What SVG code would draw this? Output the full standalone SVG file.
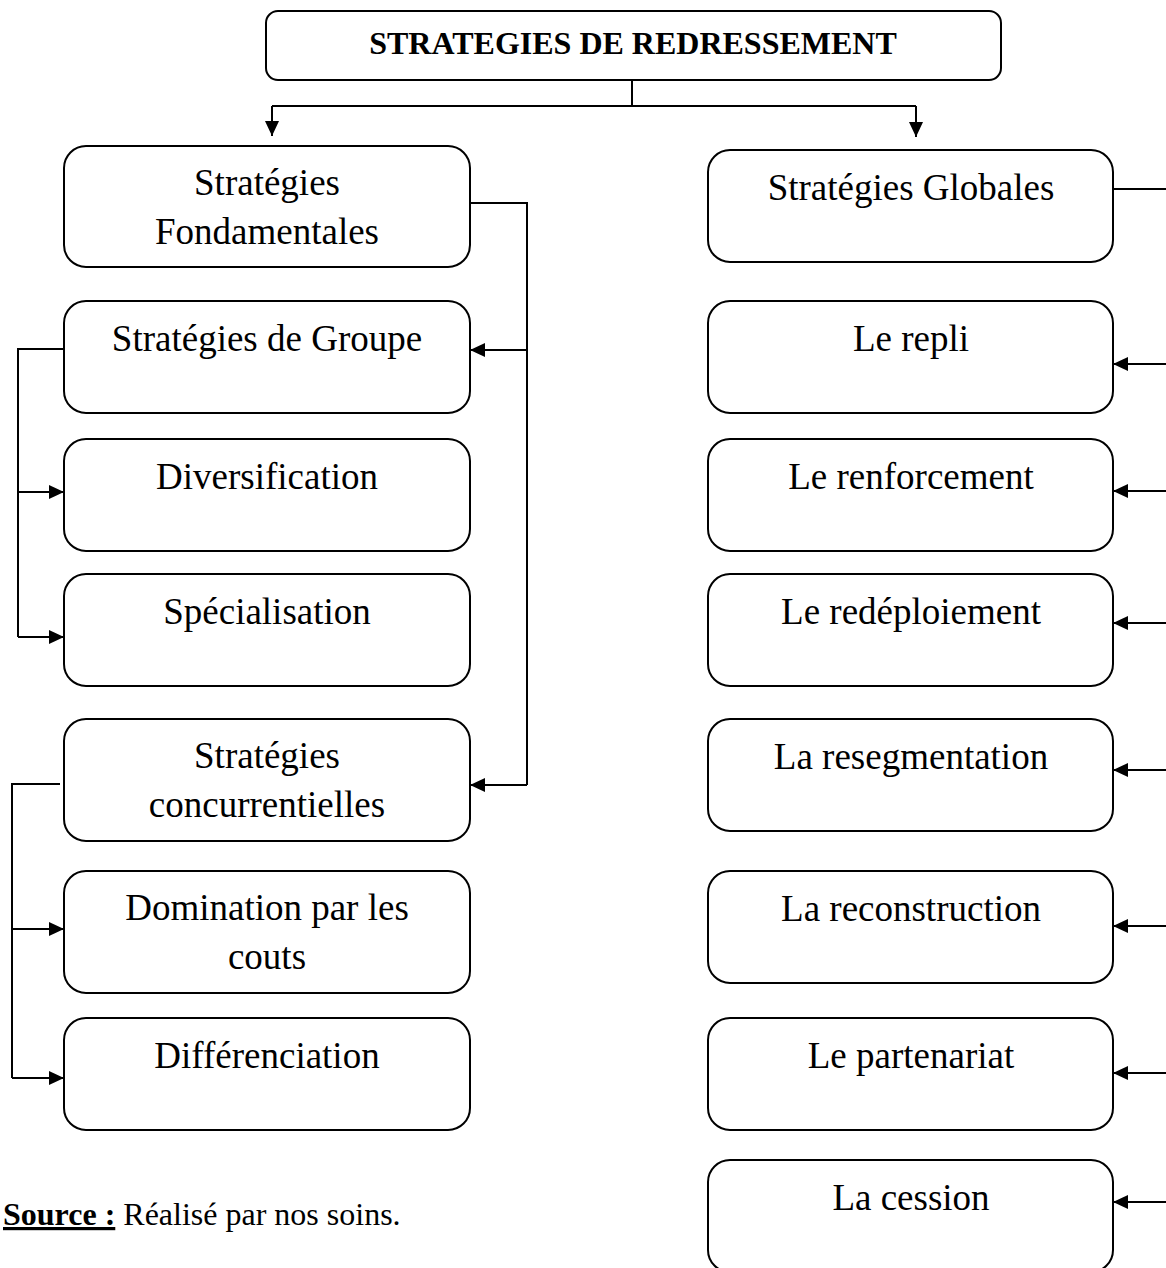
<svg xmlns="http://www.w3.org/2000/svg" width="1166" height="1268" viewBox="0 0 1166 1268">
<style>
.box{fill:#fff;stroke:#000;stroke-width:2}
.t{font-family:"Liberation Serif","Times New Roman",serif;font-size:37px;fill:#000;text-anchor:middle}
.title{font-family:"Liberation Serif","Times New Roman",serif;font-size:32px;font-weight:bold;fill:#000;text-anchor:middle}
.c{fill:none;stroke:#000;stroke-width:2}
.src{font-family:"Liberation Serif","Times New Roman",serif;font-size:32px;fill:#000}
</style>
<defs>
<marker id="ah" viewBox="0 0 15 14" refX="15" refY="7" markerWidth="15" markerHeight="14" markerUnits="userSpaceOnUse" orient="auto">
<path d="M0,0 L15,7 L0,14 z" fill="#000"/>
</marker>
</defs>
<rect width="1166" height="1268" fill="#fff"/>
<g id="connectors">
<path class="c" d="M632,80 V106"/>
<path class="c" d="M272,106 H916"/>
<path class="c" d="M272,106 V136" marker-end="url(#ah)"/>
<path class="c" d="M916,106 V137" marker-end="url(#ah)"/>
<path class="c" d="M470,203 H527 V785"/>
<path class="c" d="M527,350 H470" marker-end="url(#ah)"/>
<path class="c" d="M527,785 H470" marker-end="url(#ah)"/>
<path class="c" d="M64,349 H18 V637"/>
<path class="c" d="M18,492 H64" marker-end="url(#ah)"/>
<path class="c" d="M18,637 H64" marker-end="url(#ah)"/>
<path class="c" d="M60,784 H12 V1078"/>
<path class="c" d="M12,929 H64" marker-end="url(#ah)"/>
<path class="c" d="M12,1078 H64" marker-end="url(#ah)"/>
<path class="c" d="M1113,189 H1166"/>
<path class="c" d="M1166,364 H1113" marker-end="url(#ah)"/>
<path class="c" d="M1166,491 H1113" marker-end="url(#ah)"/>
<path class="c" d="M1166,623 H1113" marker-end="url(#ah)"/>
<path class="c" d="M1166,770 H1113" marker-end="url(#ah)"/>
<path class="c" d="M1166,926 H1113" marker-end="url(#ah)"/>
<path class="c" d="M1166,1073 H1113" marker-end="url(#ah)"/>
<path class="c" d="M1166,1202 H1113" marker-end="url(#ah)"/>
</g>
<g id="n-title"><rect class="box" x="266" y="11" width="735" height="69" rx="12"/><text class="title" x="633" y="54">STRATEGIES DE REDRESSEMENT</text></g>
<g id="n-fond"><rect class="box" x="64" y="146" width="406" height="121" rx="22"/><text class="t" x="267" y="195">Stratégies</text><text class="t" x="267" y="244">Fondamentales</text></g>
<g id="n-groupe"><rect class="box" x="64" y="301" width="406" height="112" rx="22"/><text class="t" x="267" y="351">Stratégies de Groupe</text></g>
<g id="n-divers"><rect class="box" x="64" y="439" width="406" height="112" rx="22"/><text class="t" x="267" y="489">Diversification</text></g>
<g id="n-spec"><rect class="box" x="64" y="574" width="406" height="112" rx="22"/><text class="t" x="267" y="624">Spécialisation</text></g>
<g id="n-conc"><rect class="box" x="64" y="719" width="406" height="122" rx="22"/><text class="t" x="267" y="768">Stratégies</text><text class="t" x="267" y="817">concurrentielles</text></g>
<g id="n-domin"><rect class="box" x="64" y="871" width="406" height="122" rx="22"/><text class="t" x="267" y="920">Domination par les</text><text class="t" x="267" y="969">couts</text></g>
<g id="n-diff"><rect class="box" x="64" y="1018" width="406" height="112" rx="22"/><text class="t" x="267" y="1068">Différenciation</text></g>
<g id="n-glob"><rect class="box" x="708" y="150" width="405" height="112" rx="22"/><text class="t" x="911" y="200">Stratégies Globales</text></g>
<g id="n-repli"><rect class="box" x="708" y="301" width="405" height="112" rx="22"/><text class="t" x="911" y="351">Le repli</text></g>
<g id="n-renf"><rect class="box" x="708" y="439" width="405" height="112" rx="22"/><text class="t" x="911" y="489">Le renforcement</text></g>
<g id="n-redep"><rect class="box" x="708" y="574" width="405" height="112" rx="22"/><text class="t" x="911" y="624">Le redéploiement</text></g>
<g id="n-reseg"><rect class="box" x="708" y="719" width="405" height="112" rx="22"/><text class="t" x="911" y="769">La resegmentation</text></g>
<g id="n-recon"><rect class="box" x="708" y="871" width="405" height="112" rx="22"/><text class="t" x="911" y="921">La reconstruction</text></g>
<g id="n-part"><rect class="box" x="708" y="1018" width="405" height="112" rx="22"/><text class="t" x="911" y="1068">Le partenariat</text></g>
<g id="n-cess"><rect class="box" x="708" y="1160" width="405" height="112" rx="22"/><text class="t" x="911" y="1210">La cession</text></g>
<text class="src" x="3" y="1225"><tspan font-weight="bold" text-decoration="underline">Source :</tspan> Réalisé par nos soins.</text>
</svg>
